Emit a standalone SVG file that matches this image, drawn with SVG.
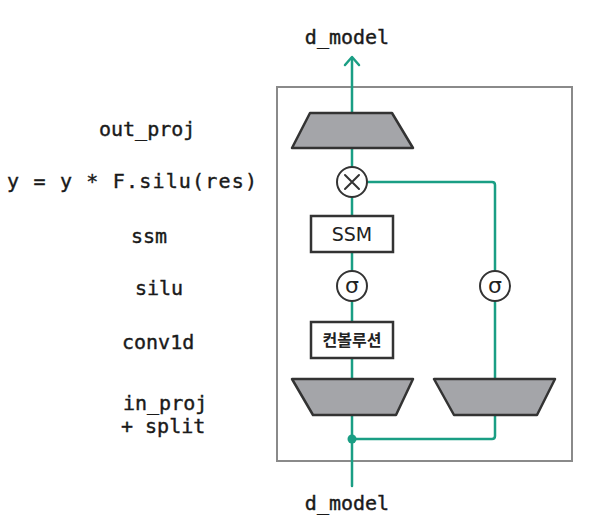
<svg xmlns="http://www.w3.org/2000/svg" width="596" height="526" viewBox="0 0 596 526">
<style>
.lbl{font-family:"DejaVu Sans Mono","Liberation Mono",monospace;font-size:20px;fill:#1a1a1a;stroke:#1a1a1a;stroke-width:0.4}
.c{fill:none;stroke:#1a9e84;stroke-width:2.5;stroke-linecap:round;stroke-linejoin:round}
.trap{fill:#a4a5a9;stroke:#333;stroke-width:2.5;stroke-linejoin:round}
.box{fill:#fff;stroke:#333;stroke-width:2.5}
.op{fill:#fff;stroke:#333;stroke-width:2}
.sig{font-family:"DejaVu Sans","Liberation Sans",sans-serif;font-size:22px;fill:#222;text-anchor:middle}
</style>
<rect width="596" height="526" fill="#fff"/>
<rect id="frame" x="277" y="87" width="295" height="374" fill="none" stroke="#8a8a8a" stroke-width="2"/>
<g id="labels">
<text class="lbl" x="99" y="136">out_proj</text>
<text class="lbl" x="7" y="188" textLength="250" lengthAdjust="spacing">y = y * F.silu(res)</text>
<text class="lbl" x="131" y="243">ssm</text>
<text class="lbl" x="135" y="295">silu</text>
<text class="lbl" x="122" y="349">conv1d</text>
<text class="lbl" x="123" y="410">in_proj</text>
<text class="lbl" x="121" y="433">+ split</text>
<text class="lbl" x="347" y="44" text-anchor="middle">d_model</text>
<text class="lbl" x="347" y="510" text-anchor="middle">d_model</text>
</g>
<g id="connectors">
<path class="c" d="M352 486 V415"/>
<path class="c" d="M352 379 V358"/>
<path class="c" d="M352 322 V301"/>
<path class="c" d="M352 271 V252"/>
<path class="c" d="M352 216 V197"/>
<path class="c" d="M352 167 V148"/>
<path class="c" d="M352 113 V58"/>
<path class="c" d="M345 65 L352 57 L359 65"/>
<path class="c" d="M367 182 H492 Q495 182 495 185 V271"/>
<path class="c" d="M495 301 V379"/>
<path class="c" d="M495 415 V436 Q495 439 492 439 H352"/>
<circle cx="352" cy="439" r="4.5" fill="#1a9e84"/>
</g>
<g id="out_proj"><polygon class="trap" points="310,113 392,113 413,148 292,148"/></g>
<g id="mul">
<circle class="op" cx="352" cy="182" r="15"/>
<path d="M345 175 L359 189 M359 175 L345 189" stroke="#333" stroke-width="2" stroke-linecap="round"/>
</g>
<g id="ssm">
<rect class="box" x="311" y="216" width="82" height="36"/>
<text x="352" y="241" text-anchor="middle" style="font-family:'DejaVu Sans','Liberation Sans',sans-serif;font-size:19px;fill:#222">SSM</text>
</g>
<g id="silu_left">
<circle class="op" cx="352" cy="286" r="15"/>
<text class="sig" x="352" y="293">σ</text>
</g>
<g id="silu_right">
<circle class="op" cx="495" cy="286" r="15"/>
<text class="sig" x="495" y="293">σ</text>
</g>
<g id="conv">
<rect class="box" x="311" y="322" width="82" height="36"/>
<text x="352" y="346" text-anchor="middle" style="font-family:'Noto Sans CJK KR',sans-serif;font-size:16px;font-weight:bold;fill:#222">컨볼루션</text>
</g>
<g id="in_proj_left"><polygon class="trap" points="292,379 413,379 396,415 313,415"/></g>
<g id="in_proj_right"><polygon class="trap" points="434,379 555,379 537,415 454,415"/></g>
</svg>
